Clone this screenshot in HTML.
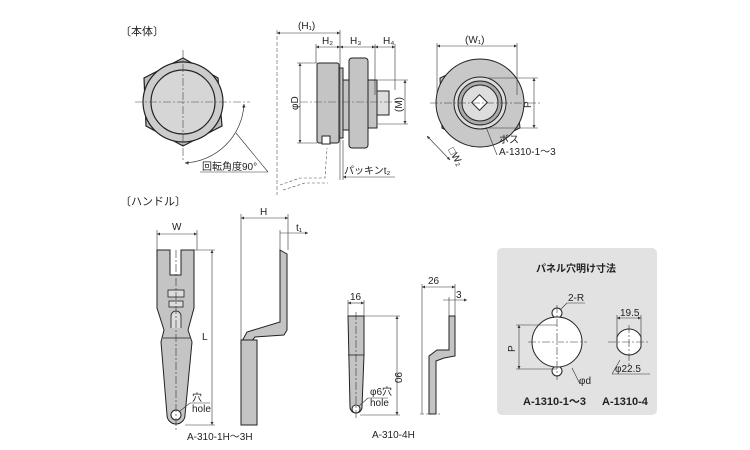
<!DOCTYPE html>
<html><head><meta charset="utf-8"><style>
body{margin:0;background:#fff}
svg{display:block;font-family:"Liberation Sans","Noto Sans CJK JP",sans-serif}
</style></head><body>
<svg width="750" height="450" viewBox="0 0 750 450" xmlns="http://www.w3.org/2000/svg">
<defs>
<marker id="a" viewBox="0 0 6 6" refX="6" refY="3" markerWidth="5" markerHeight="5" orient="auto-start-reverse"><path d="M0,0L6,3L0,6z" fill="#333"/></marker>
</defs>
<g font-size="10" fill="#222">
<text x="120" y="35" font-size="11">〔本体〕</text>
<text x="120" y="205" font-size="11">〔ハンドル〕</text>
</g>
<!-- front view body -->
<g stroke="#222" stroke-width="1.2">
<polygon points="183,58 218,78 222,126 183,146 146,126 144,78" fill="#bbb"/>
<circle cx="183" cy="102" r="40" fill="#ccc"/>
<circle cx="183" cy="102" r="32" fill="#d6d6d6"/>
</g>
<g stroke="#444" stroke-width="0.6" stroke-dasharray="8,2,2,2" fill="none">
<line x1="135" y1="102" x2="250" y2="102"/><line x1="183" y1="50" x2="183" y2="160"/>
</g>
<path d="M244,104 A62,62 0 0 1 185,163" fill="none" stroke="#333" stroke-width="0.7" marker-start="url(#a)" marker-end="url(#a)"/>
<line x1="236" y1="133" x2="268" y2="172" stroke="#333" stroke-width="0.6"/>
<line x1="200" y1="172" x2="268" y2="172" stroke="#333" stroke-width="0.6"/>
<text x="202" y="170" font-size="10" fill="#222">回転角度90°</text>
<!-- side view -->
<g stroke="#222" stroke-width="1" fill="#c4c4c4">
<rect x="317" y="63" width="22" height="80" rx="2"/>
<rect x="339" y="68" width="4" height="70"/>
<rect x="343" y="80" width="8" height="50"/>
<rect x="349" y="58" width="19" height="90" rx="3"/>
<rect x="368" y="80" width="9" height="48"/>
<rect x="377" y="91" width="12" height="24" fill="#ddd"/>
<rect x="322" y="136" width="8" height="8" fill="#fff"/>
</g>
<g stroke="#555" stroke-width="0.6" fill="none">
<line x1="277" y1="30" x2="277" y2="195" stroke-dasharray="4,2"/>
<path d="M280,185 L300,178 L325,178 L327,148" stroke-dasharray="3,2"/>
<path d="M283,190 L305,183 L328,183" stroke-dasharray="3,2"/>
<line x1="300" y1="102" x2="400" y2="102" stroke-dasharray="8,2,2,2"/>
</g>
<g stroke="#333" stroke-width="0.6" fill="none">
<line x1="277" y1="33" x2="340" y2="33" marker-start="url(#a)" marker-end="url(#a)"/>
<line x1="316" y1="47" x2="340" y2="47" marker-start="url(#a)" marker-end="url(#a)"/>
<line x1="340" y1="47" x2="375" y2="47" marker-start="url(#a)" marker-end="url(#a)"/>
<line x1="375" y1="47" x2="395" y2="47" marker-start="url(#a)" marker-end="url(#a)"/>
<line x1="340" y1="30" x2="340" y2="180"/><line x1="316" y1="44" x2="316" y2="63"/>
<line x1="375" y1="44" x2="375" y2="95"/><line x1="395" y1="44" x2="395" y2="90"/>
<line x1="300" y1="63" x2="300" y2="143" marker-start="url(#a)" marker-end="url(#a)"/>
<line x1="297" y1="63" x2="317" y2="63"/><line x1="297" y1="143" x2="317" y2="143"/>
<line x1="405" y1="80" x2="405" y2="124" marker-start="url(#a)" marker-end="url(#a)"/>
<line x1="378" y1="80" x2="408" y2="80"/><line x1="378" y1="124" x2="408" y2="124"/>
<line x1="343" y1="177" x2="395" y2="177" marker-start="url(#a)"/>
<line x1="343" y1="140" x2="343" y2="180"/>
</g>
<g font-size="10" fill="#222">
<text x="298" y="29">(H₁)</text><text x="322" y="44">H₂</text><text x="350" y="44">H₃</text><text x="383" y="44">H₄</text>
<text transform="translate(298,110) rotate(-90)">φD</text>
<text transform="translate(402,112) rotate(-90)">(M)</text>
<text x="344" y="174">パッキンt₂</text>
</g>
<!-- right view -->
<g stroke="#222" stroke-width="1">
<polygon points="480,59 515,78 520,128 480,147 442,128 440,78" fill="#bbb"/>
<circle cx="480" cy="103" r="44" fill="#c8c8c8"/>
<circle cx="480" cy="103" r="26" fill="#ddd"/>
<circle cx="480" cy="103" r="22" fill="#aaa"/>
<circle cx="480" cy="103" r="18" fill="#ddd"/>
<rect x="474" y="97" width="11" height="11" transform="rotate(45 479.5 102.5)" fill="#fff"/>
</g>
<g stroke="#333" stroke-width="0.6" fill="none">
<line x1="437" y1="46" x2="517" y2="46" marker-start="url(#a)" marker-end="url(#a)"/>
<line x1="437" y1="43" x2="437" y2="95"/><line x1="517" y1="43" x2="517" y2="95"/>
<line x1="534" y1="78" x2="534" y2="128" marker-start="url(#a)" marker-end="url(#a)"/>
<line x1="487" y1="78" x2="538" y2="78"/><line x1="487" y1="128" x2="538" y2="128"/>
<line x1="427" y1="136" x2="450" y2="160" marker-start="url(#a)" marker-end="url(#a)"/>
<line x1="486" y1="127" x2="497" y2="155"/>
<line x1="430" y1="103" x2="540" y2="103" stroke-dasharray="8,2,2,2"/>
</g>
<g font-size="10" fill="#222">
<text x="465" y="43">(W₁)</text>
<text transform="translate(531,108) rotate(-90)">P</text>
<text transform="translate(448,150) rotate(60)">□W₂</text>
<text x="499" y="143">ボス</text><text x="499" y="155">A-1310-1～3</text>
</g>
<!-- handle front -->
<path d="M157,250 H170 V275 H181 V250 H194 V308 L188,330 L192,342 L185,415 A9,9 0 0 1 167,415 L161,342 L164,330 L157,308 Z" fill="#c4c4c4" stroke="#222" stroke-width="1"/>
<rect x="168" y="290" width="16" height="7" fill="#ddd" stroke="#222" stroke-width="0.8"/>
<rect x="169" y="301" width="14" height="6" fill="#ddd" stroke="#222" stroke-width="0.8"/>
<path d="M171,328 V316 A5,5 0 0 1 181,316 V328" fill="#ddd" stroke="#222" stroke-width="0.8"/>
<path d="M163,338 H190" stroke="#222" stroke-width="0.8"/>
<circle cx="176" cy="415" r="5" fill="#fff" stroke="#222"/>
<g stroke="#333" stroke-width="0.6" fill="none">
<line x1="176" y1="250" x2="176" y2="430" stroke-dasharray="8,2,2,2"/>
<line x1="157" y1="234" x2="197" y2="234" marker-start="url(#a)" marker-end="url(#a)"/>
<line x1="157" y1="230" x2="157" y2="250"/><line x1="197" y1="230" x2="197" y2="250"/>
<line x1="212" y1="250" x2="212" y2="425" marker-start="url(#a)" marker-end="url(#a)"/>
<line x1="194" y1="250" x2="215" y2="250"/><line x1="185" y1="425" x2="215" y2="425"/>
<line x1="180" y1="411" x2="190" y2="403"/><line x1="190" y1="403" x2="210" y2="403"/>
</g>
<g font-size="10" fill="#222"><text x="172" y="230">W</text><text x="202" y="340">L</text>
<text x="192" y="401">穴</text><text x="192" y="412">hole</text><text x="187" y="440">A-310-1H～3H</text></g>
<!-- handle side -->
<path d="M280,250 L287,254 V330 L284,335 L255,337 L250,343 H241 L247,332 L280,322 Z" fill="#c4c4c4" stroke="#222" stroke-width="1"/>
<rect x="241" y="340" width="16" height="85" fill="#c4c4c4" stroke="#222" stroke-width="1"/>
<g stroke="#333" stroke-width="0.6" fill="none">
<line x1="241" y1="218" x2="288" y2="218" marker-start="url(#a)" marker-end="url(#a)"/>
<line x1="241" y1="214" x2="241" y2="340"/><line x1="288" y1="214" x2="288" y2="250"/>
<line x1="280" y1="233" x2="308" y2="233" marker-end="url(#a)"/><line x1="280" y1="230" x2="280" y2="250"/>
</g>
<g font-size="10" fill="#222"><text x="260" y="215">H</text><text x="296" y="231">t₁</text></g>
<!-- A-310-4H -->
<path d="M348,316 H364 V355 L362,407 A6,6 0 0 1 350,407 Z" fill="#c4c4c4" stroke="#222" stroke-width="1"/>
<line x1="348" y1="355" x2="364" y2="355" stroke="#222" stroke-width="0.8"/>
<circle cx="356" cy="409" r="4" fill="#fff" stroke="#222"/>
<path d="M449,316 H455 V356 L444,358 L436,361 V414 H429 V356 L437,350 L449,350 Z" fill="#c4c4c4" stroke="#222" stroke-width="1"/>
<g stroke="#333" stroke-width="0.6" fill="none">
<line x1="356" y1="312" x2="356" y2="420" stroke-dasharray="8,2,2,2"/>
<line x1="348" y1="303" x2="364" y2="303" marker-start="url(#a)" marker-end="url(#a)"/>
<line x1="348" y1="300" x2="348" y2="316"/><line x1="364" y1="300" x2="364" y2="316"/>
<line x1="397" y1="316" x2="397" y2="415" marker-start="url(#a)" marker-end="url(#a)"/>
<line x1="364" y1="316" x2="400" y2="316"/><line x1="360" y1="415" x2="400" y2="415"/>
<line x1="359" y1="406" x2="368" y2="398"/><line x1="368" y1="398" x2="388" y2="398"/>
<line x1="422" y1="287" x2="455" y2="287" marker-start="url(#a)" marker-end="url(#a)"/>
<line x1="422" y1="284" x2="422" y2="414"/><line x1="455" y1="284" x2="455" y2="316"/>
<line x1="443" y1="300" x2="467" y2="300" marker-end="url(#a)"/><line x1="449" y1="297" x2="449" y2="316"/>
<line x1="420" y1="414" x2="440" y2="414" stroke-dasharray="4,2"/>
</g>
<g font-size="10" fill="#222"><text x="350" y="300">16</text><text x="428" y="284">26</text><text x="456" y="298">3</text>
<text transform="translate(395,372) rotate(90)">90</text>
<text x="370" y="395">φ6穴</text><text x="370" y="406">hole</text><text x="372" y="438">A-310-4H</text></g>
<!-- panel cutout box -->
<rect x="497" y="248" width="160" height="167" rx="5" fill="#e2e2e2"/>
<text x="536" y="272" font-size="10" font-weight="bold" fill="#222">パネル穴明け寸法</text>
<g stroke="#222" stroke-width="1" fill="#fff">
<circle cx="557" cy="313" r="5"/><circle cx="557" cy="371" r="5"/>
<circle cx="557" cy="342" r="25"/>
<path d="M617,337 A13,13 0 0 1 641,337 L641,347 A13,13 0 0 1 617,347 Z"/>
</g>
<g stroke="#333" stroke-width="0.6" fill="none">
<line x1="528" y1="342" x2="587" y2="342" stroke-dasharray="8,2,2,2"/>
<line x1="557" y1="305" x2="557" y2="380" stroke-dasharray="8,2,2,2"/>
<line x1="608" y1="342" x2="650" y2="342" stroke-dasharray="8,2,2,2"/>
<line x1="629" y1="325" x2="629" y2="365" stroke-dasharray="8,2,2,2"/>
<line x1="519" y1="325" x2="519" y2="369" marker-start="url(#a)" marker-end="url(#a)"/>
<line x1="516" y1="325" x2="557" y2="325"/><line x1="516" y1="369" x2="557" y2="369"/>
<line x1="617" y1="318" x2="641" y2="318" marker-start="url(#a)" marker-end="url(#a)"/>
<line x1="617" y1="315" x2="617" y2="340"/><line x1="641" y1="315" x2="641" y2="340"/>
<line x1="560" y1="310" x2="567" y2="303"/><line x1="567" y1="303" x2="585" y2="303"/>
<line x1="572" y1="368" x2="580" y2="384"/>
<line x1="620" y1="360" x2="612" y2="374"/><line x1="612" y1="374" x2="650" y2="374"/>
</g>
<g font-size="10" fill="#222"><text x="568" y="301">2-R</text>
<text transform="translate(515,352) rotate(-90)">P</text>
<text x="579" y="384">φd</text><text x="620" y="316">19.5</text><text x="615" y="372">φ22.5</text>
<text x="523" y="405" font-size="11" font-weight="bold">A-1310-1～3</text>
<text x="602" y="405" font-size="11" font-weight="bold">A-1310-4</text></g>
</svg>
</body></html>
